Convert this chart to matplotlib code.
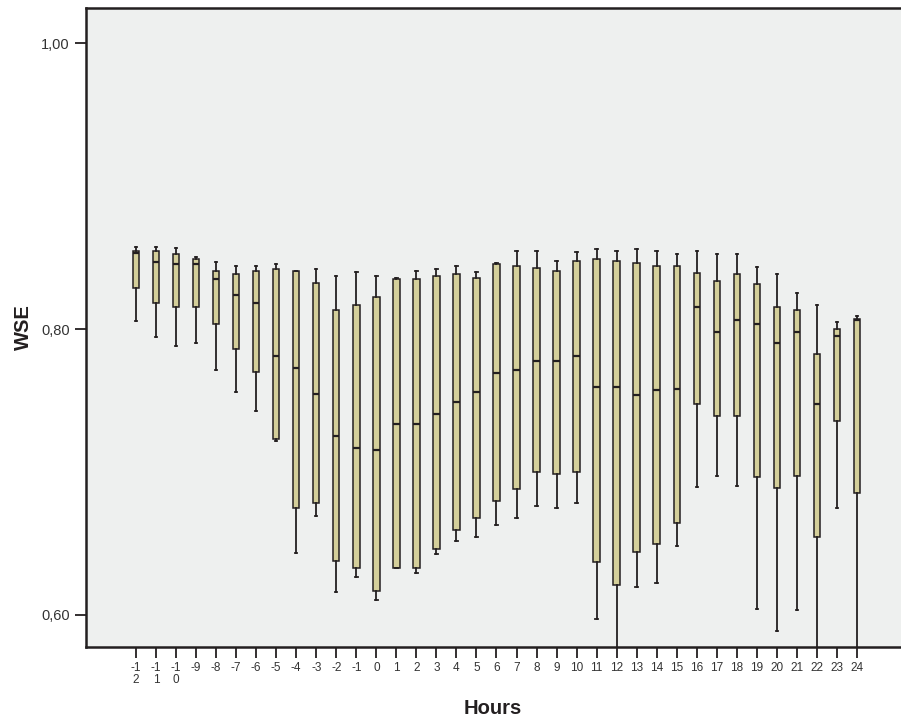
import matplotlib
matplotlib.use("Agg")
import matplotlib.pyplot as plt

plt.rcParams['font.family'] = ['Liberation Sans', 'DejaVu Sans']

hours = list(range(-12, 25))
tick_labels = ["-1\n2", "-1\n1", "-1\n0"] + [str(h) for h in range(-9, 25)]

whisker_high = [0.8576, 0.8576, 0.8564, 0.8501, 0.8466, 0.8443, 0.8443, 0.8455, 0.8408,
                0.8420, 0.8373, 0.8397, 0.8373, 0.8354, 0.8408, 0.8420, 0.8443, 0.8397,
                0.8464, 0.8548, 0.8548, 0.8478, 0.8538, 0.8562, 0.8548, 0.8562, 0.8548,
                0.8524, 0.8548, 0.8524, 0.8524, 0.8431, 0.8385, 0.8254, 0.8168, 0.8051,
                0.8091]
q3 = [0.8548, 0.8548, 0.8524, 0.8487, 0.8406, 0.8382, 0.8406, 0.8417, 0.8406,
      0.8324, 0.8131, 0.8166, 0.8226, 0.8347, 0.8347, 0.8371, 0.8382, 0.8359,
      0.8455, 0.8441, 0.8429, 0.8406, 0.8476, 0.8487, 0.8476, 0.8464, 0.8441,
      0.8441, 0.8394, 0.8336, 0.8382, 0.8312, 0.8156, 0.8131, 0.7823, 0.8000,
      0.8068]
median = [0.8529, 0.8466, 0.8455, 0.8455, 0.8347, 0.8238, 0.8184, 0.7811, 0.7730,
          0.7548, 0.7250, 0.7166, 0.7156, 0.7336, 0.7336, 0.7408, 0.7490, 0.7559,
          0.7690, 0.7713, 0.7774, 0.7774, 0.7811, 0.7597, 0.7597, 0.7536, 0.7571,
          0.7583, 0.8154, 0.7979, 0.8061, 0.8037, 0.7904, 0.7979, 0.7478, 0.7953,
          0.8060]
q1 = [0.8285, 0.8184, 0.8156, 0.8156, 0.8035, 0.7858, 0.7702, 0.7229, 0.6750,
      0.6785, 0.6378, 0.6331, 0.6168, 0.6331, 0.6331, 0.6459, 0.6594, 0.6678,
      0.6795, 0.6883, 0.7000, 0.6986, 0.7000, 0.6368, 0.6210, 0.6438, 0.6499,
      0.6641, 0.7478, 0.7394, 0.7394, 0.6963, 0.6890, 0.6974, 0.6548, 0.7357,
      0.6855]
whisker_low = [0.8058, 0.7942, 0.7881, 0.7904, 0.7713, 0.7559, 0.7427, 0.7218, 0.6436,
               0.6692, 0.6163, 0.6268, 0.6105, 0.6328, 0.6291, 0.6427, 0.6520, 0.6548,
               0.6629, 0.6678, 0.6762, 0.6750, 0.6785, 0.5970, 0.5500, 0.6198, 0.6222,
               0.6485, 0.6893, 0.6974, 0.6902, 0.6044, 0.5888, 0.6033, 0.5500, 0.6750,
               0.5500]

stats = []
for i, h in enumerate(hours):
    stats.append(dict(label=tick_labels[i], med=median[i], q1=q1[i], q3=q3[i],
                      whislo=whisker_low[i], whishi=whisker_high[i], fliers=[]))

fig = plt.figure(figsize=(9.01, 7.21), dpi=100)
ax = fig.add_axes([0.0954, 0.1026, 0.9046, 0.8863])
ax.set_facecolor('#eef0ef')

edge = '#231f20'
ax.bxp(stats, positions=list(range(len(hours))), widths=0.32, patch_artist=True,
       showfliers=False, capwidths=0.12,
       boxprops=dict(facecolor='#d4cf9a', edgecolor=edge, linewidth=1.1),
       medianprops=dict(color=edge, linewidth=1.6),
       whiskerprops=dict(color=edge, linewidth=1.3),
       capprops=dict(color=edge, linewidth=1.3))

ax.set_xlim(-2.5, 38.2)
ax.set_ylim(0.5776, 1.0245)
ax.set_yticks([0.60, 0.80, 1.00])
ax.set_yticklabels(['0,60', '0,80', '1,00'], fontsize=10.5, color='#333333')
ax.set_xticks(list(range(len(hours))))
ax.set_xticklabels(tick_labels, fontsize=8.5, color='#333333', linespacing=0.95)
ax.tick_params(axis='both', direction='out', length=8, width=1.3, color=edge)
ax.tick_params(axis='x', pad=3)

for side in ('left', 'bottom', 'top'):
    ax.spines[side].set_linewidth(1.8)
    ax.spines[side].set_color(edge)
ax.spines['right'].set_visible(False)

ax.set_ylabel('WSE', fontsize=14.5, fontweight='bold', color='#231f20', labelpad=6)
fig.text(0.5472, 0.018, 'Hours', fontsize=14.5, fontweight='bold', color='#231f20',
         ha='center', va='center')

fig.savefig('out.png', dpi=100)
